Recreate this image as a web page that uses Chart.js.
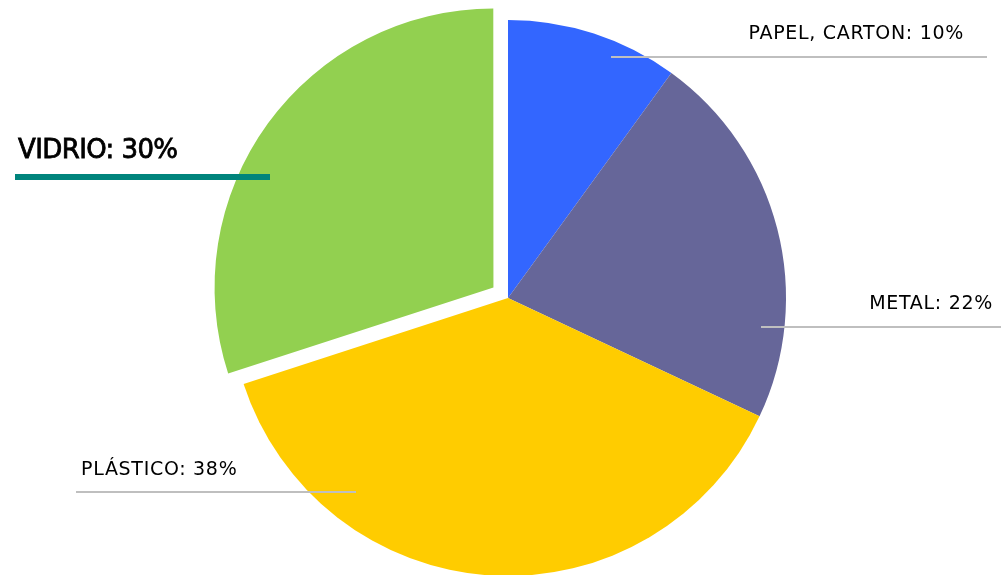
<!DOCTYPE html>
<html>
<head>
<meta charset="utf-8">
<script src="https://cdn.jsdelivr.net/npm/chart.js@4/dist/chart.umd.min.js"></script>
<style>
  html, body { margin: 0; padding: 0; background: #fff; }
  #wrap { width: 1001px; height: 575px; }
</style>
</head>
<body>
<div id="wrap"><canvas id="grafica"></canvas></div>
<script>
(function() {

    const categorias = ['PAPEL, CARTON', 'METAL', 'PLÁSTICO', 'VIDRIO'];
    const porcentajes = [10, 22, 38, 30];
    const colores = ['#3366ff', '#666699', '#ffcc00', '#92d050'];
    // Chart.js moves an arc by offset / 4 pixels
    const separados = [0, 0, 0, 72];

    // leader line and text placement for each label
    const etiquetas = [
        { linea: [611, 987, 57], texto: [964, 39], align: 'right', font: '19px "DejaVu Sans"', espacio: '0.7px', trazo: 0, color: '#bfbfbf', grosor: 2 },
        { linea: [761, 1001, 327], texto: [993, 309], align: 'right', font: '19px "DejaVu Sans"', espacio: '0.7px', trazo: 0, color: '#bfbfbf', grosor: 2 },
        { linea: [76, 356, 492], texto: [81, 475], align: 'left', font: '19px "DejaVu Sans"', espacio: '0.7px', trazo: 0, color: '#bfbfbf', grosor: 2 },
        { linea: [15, 270, 177], texto: [18, 158], align: 'left', font: '26px "DejaVu Sans"', espacio: '-0.6px', trazo: 0.8, color: '#00847c', grosor: 6 }
    ];

    const lineasEtiquetas = {
        id: 'lineasEtiquetas',
        afterDatasetsDraw(chart) {
            const ctx = chart.ctx;
            ctx.save();
            etiquetas.forEach((et, i) => {
                const [x1, x2, y] = et.linea;
                ctx.strokeStyle = et.color;
                ctx.lineWidth = et.grosor;
                ctx.beginPath();
                ctx.moveTo(x1, y);
                ctx.lineTo(x2, y);
                ctx.stroke();

                const texto = categorias[i] + ': ' + porcentajes[i] + '%';
                ctx.fillStyle = '#000';
                ctx.font = et.font;
                ctx.letterSpacing = et.espacio;
                ctx.textAlign = et.align;
                ctx.textBaseline = 'alphabetic';
                ctx.fillText(texto, et.texto[0], et.texto[1]);
                if (et.trazo) {
                    // a bit heavier, like a medium weight
                    ctx.strokeStyle = '#000';
                    ctx.lineWidth = et.trazo;
                    ctx.strokeText(texto, et.texto[0], et.texto[1]);
                }
            });
            ctx.restore();
        }
    };

    const grafica = document.querySelector('#grafica');

    new Chart(grafica, {
        type: 'pie',
        data: {
            labels: categorias,
            datasets: [{
                data: porcentajes,
                backgroundColor: colores,
                borderWidth: 0,
                offset: separados,
                clip: false
            }]
        },
        options: {
            responsive: true,
            maintainAspectRatio: false,
            animation: false,
            radius: 278,
            layout: {
                padding: { left: 15, right: 0, top: 21, bottom: 0 }
            },
            plugins: {
                legend: { display: false },
                tooltip: { enabled: false }
            }
        },
        plugins: [lineasEtiquetas]
    });

})();
</script>
</body>
</html>
